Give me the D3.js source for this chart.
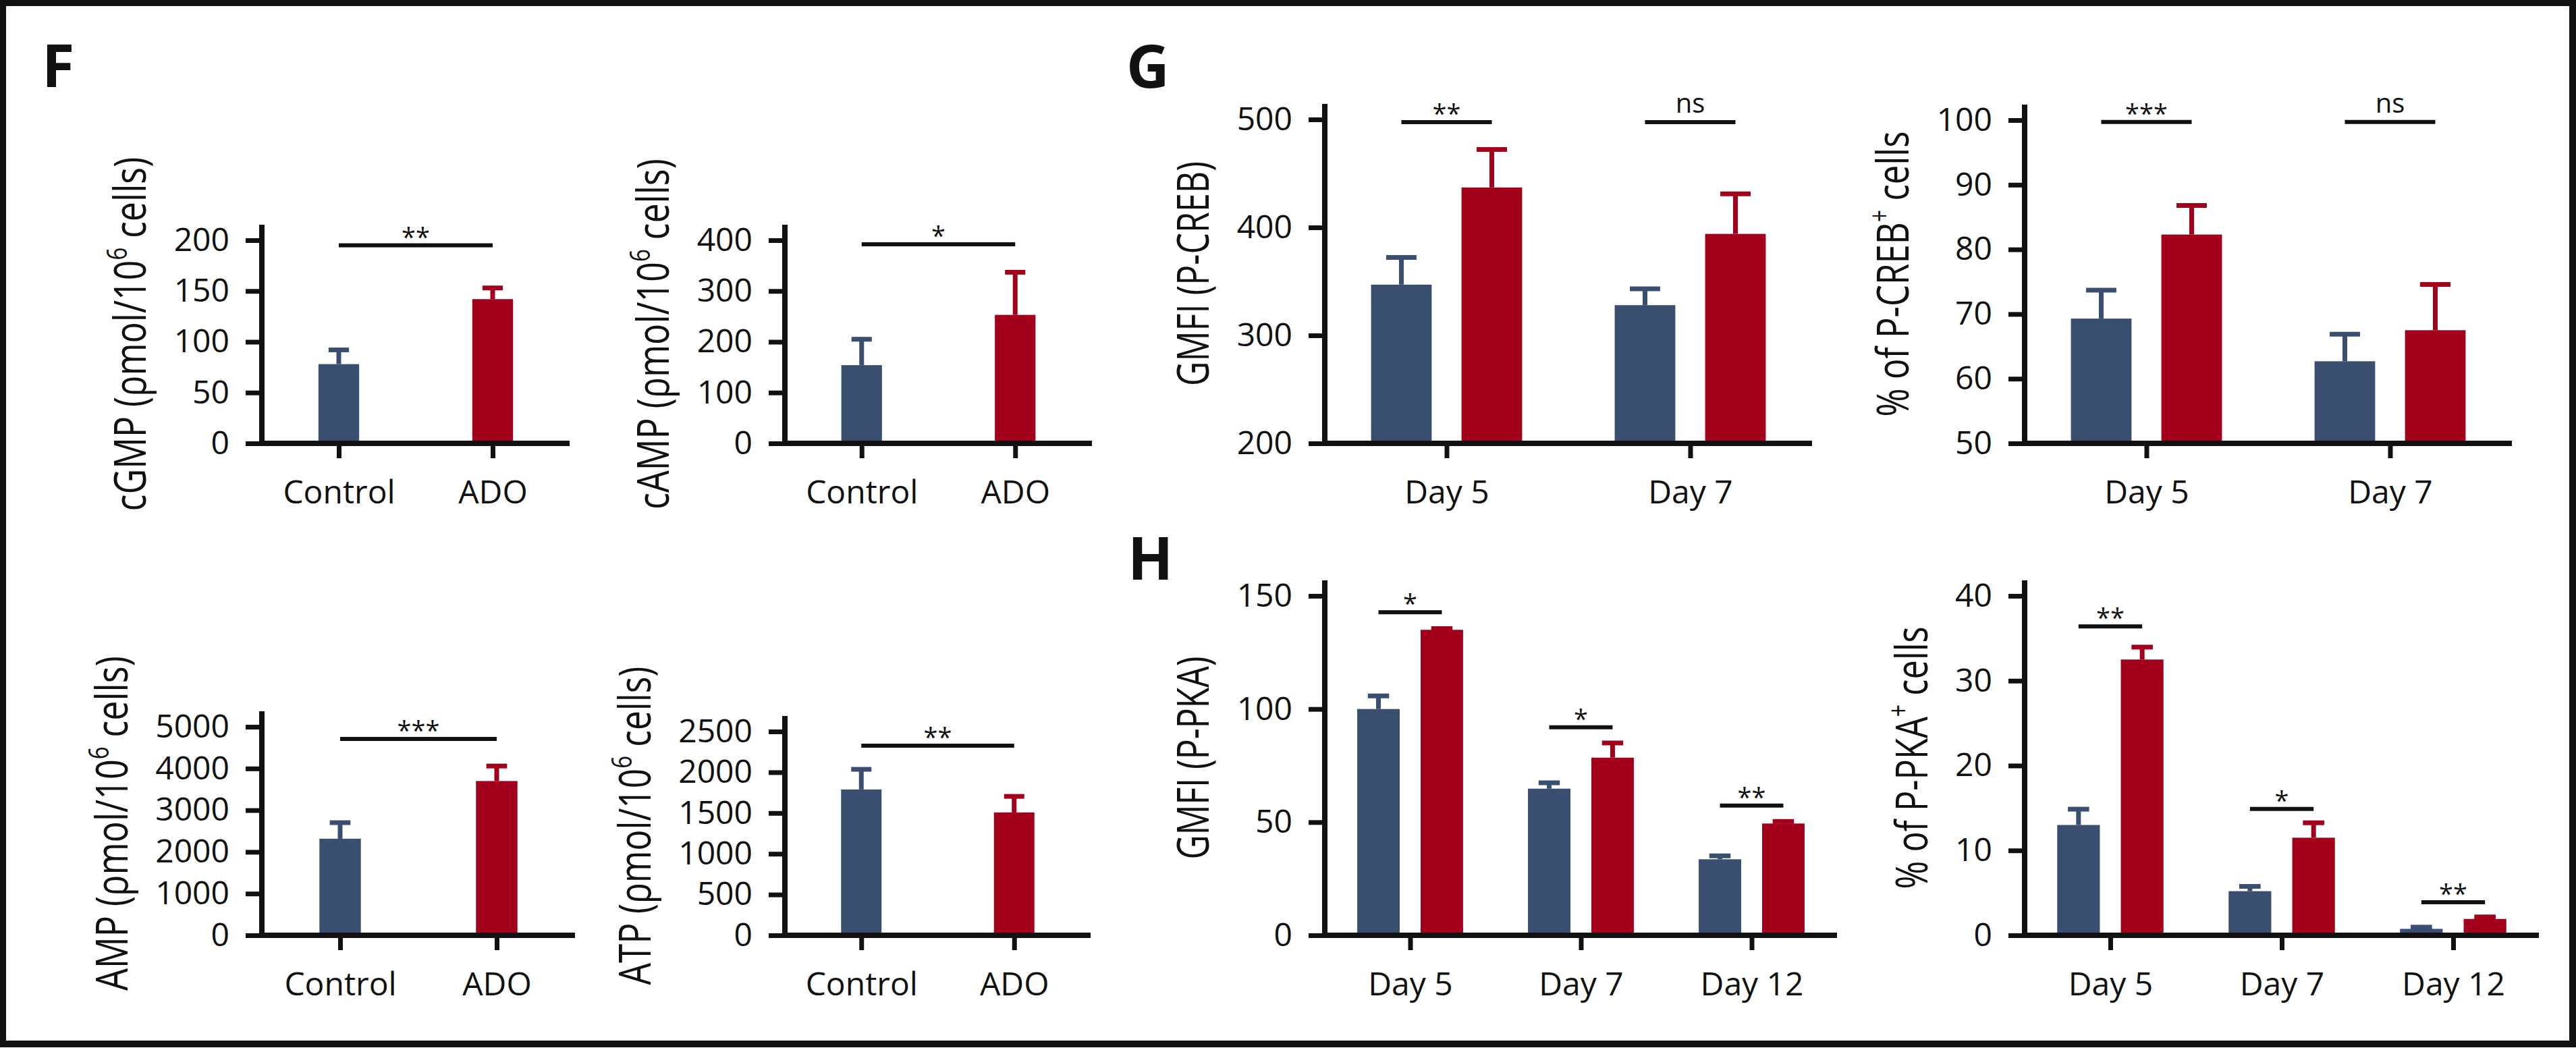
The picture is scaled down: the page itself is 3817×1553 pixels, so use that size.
<!DOCTYPE html>
<html>
<head>
<meta charset="utf-8">
<script src="https://cdn.jsdelivr.net/npm/d3@7"></script>
<style>
body { margin: 0; background: #fff; }
text { font-family: "Open Sans", "Liberation Sans", sans-serif; fill: #111; }
</style>
</head>
<body>
<svg width="3817" height="1553"></svg>
<script>
var svg = d3.select("svg");

var blue = "#3a4e6f";
var red = "#a3001b";
var ink = "#111";

// ---- F : nucleotides ----
var fCats = ["Control", "ADO"];
var cgmpMean = [78, 142], cgmpSem = [16, 13];
var campMean = [154, 253], campSem = [55, 88];
var ampMean = [2316, 3699], ampSem = [434, 409];
var atpMean = [1789, 1507], atpSem = [272, 222];
var cgmpTicks = [0, 50, 100, 150, 200];
var campTicks = [0, 100, 200, 300, 400];
var ampTicks = [0, 1000, 2000, 3000, 4000, 5000];
var atpTicks = [0, 500, 1000, 1500, 2000, 2500];
var fStars = ["**", "*", "***", "**"];
var fSigLevel = [195, 392, 4709, 2326];

// ---- G : P-CREB ----
var gDays = ["Day 5", "Day 7"];
var crebGmfiCtrl = [347, 328], crebGmfiCtrlSem = [27, 17];
var crebGmfiAdo = [437, 394], crebGmfiAdoSem = [37, 39];
var crebPctCtrl = [69.3, 62.7], crebPctCtrlSem = [4.7, 4.5];
var crebPctAdo = [82.3, 67.5], crebPctAdoSem = [4.8, 7.4];
var crebGmfiTicks = [200, 300, 400, 500];
var crebPctTicks = [50, 60, 70, 80, 90, 100];
var crebGmfiSig = ["**", "ns"], crebGmfiSigLevel = [497.5, 497.5];
var crebPctSig = ["***", "ns"], crebPctSigLevel = [99.7, 99.7];

// ---- H : P-PKA ----
var hDays = ["Day 5", "Day 7", "Day 12"];
var pkaGmfiCtrl = [100, 64.8, 33.6], pkaGmfiCtrlSem = [6.7, 3.5, 2.4];
var pkaGmfiAdo = [135, 78.5, 49.4], pkaGmfiAdoSem = [1.4, 7.4, 1.8];
var pkaPctCtrl = [13.0, 5.2, 0.76], pkaPctCtrlSem = [2.1, 0.8, 0.44];
var pkaPctAdo = [32.5, 11.5, 1.93], pkaPctAdoSem = [1.7, 2.0, 0.47];
var pkaGmfiTicks = [0, 50, 100, 150];
var pkaPctTicks = [0, 10, 20, 30, 40];
var pkaGmfiSig = ["*", "*", "**"], pkaGmfiSigLevel = [142.8, 91.9, 57.3];
var pkaPctSig = ["**", "*", "**"], pkaPctSigLevel = [36.4, 14.9, 3.9];

// frame
svg.append("rect")
   .attr("x", 4).attr("y", 4)
   .attr("width", 3808).attr("height", 1543)
   .attr("fill", "none")
   .attr("stroke", ink)
   .attr("stroke-width", 10);

function drawPanel(o) {
  var g = svg.append("g");
  var x = d3.scalePoint().domain(o.cats).range([o.left, o.right]).padding(0.5);
  var y = d3.scaleLinear().domain([o.ticks[0], o.ticks[o.ticks.length - 1]]).range([o.bottom, o.top]);
  var nSeries = o.means.length;
  var groupW = x.step() * (nSeries > 1 ? 0.62 : 0.395);
  var inner = d3.scaleBand().domain(d3.range(nSeries))
                .range([-groupW / 2, groupW / 2]).paddingInner(0.33);
  var bw = inner.bandwidth();

  // bars + upper error whiskers
  o.means.forEach(function(vals, si) {
    var sems = o.sems[si];
    var cx = function(ci) { return x(o.cats[ci]) + inner(si) + bw / 2; };
    g.selectAll(null).data(vals).enter().append("rect")
     .attr("x", function(d, ci) { return cx(ci) - bw / 2; })
     .attr("y", function(d) { return y(d); })
     .attr("width", bw)
     .attr("height", function(d) { return y(o.ticks[0]) - y(d); })
     .attr("fill", function(d, ci) { return o.color(si, ci); });
    g.selectAll(null).data(vals).enter().append("line")
     .attr("x1", function(d, ci) { return cx(ci); })
     .attr("x2", function(d, ci) { return cx(ci); })
     .attr("y1", function(d) { return y(d); })
     .attr("y2", function(d, ci) { return y(d + sems[ci]); })
     .attr("stroke", function(d, ci) { return o.color(si, ci); })
     .attr("stroke-width", 7);
    g.selectAll(null).data(vals).enter().append("line")
     .attr("x1", function(d, ci) { return cx(ci) - bw / 4; })
     .attr("x2", function(d, ci) { return cx(ci) + bw / 4; })
     .attr("y1", function(d, ci) { return y(d + sems[ci]) + 3; })
     .attr("y2", function(d, ci) { return y(d + sems[ci]) + 3; })
     .attr("stroke", function(d, ci) { return o.color(si, ci); })
     .attr("stroke-width", 7);
  });

  // y axis
  var ya = g.append("g")
    .attr("transform", "translate(" + o.left + ",0)")
    .call(d3.axisLeft(y).tickValues(o.ticks).tickFormat(d3.format("d"))
            .tickSize(24).tickPadding(24).tickSizeOuter(0));
  ya.select(".domain").remove();
  ya.selectAll(".tick line").attr("stroke", ink).attr("stroke-width", 7);
  ya.selectAll(".tick text").attr("font-size", 48).attr("fill", ink);
  g.append("line")
   .attr("x1", o.left).attr("x2", o.left)
   .attr("y1", y(o.ticks[0]) + 4).attr("y2", o.top - 23)
   .attr("stroke", ink).attr("stroke-width", 8);

  // x axis
  var xa = g.append("g")
    .attr("transform", "translate(0," + y(o.ticks[0]) + ")")
    .call(d3.axisBottom(x).tickSize(22).tickSizeOuter(0));
  xa.select(".domain").remove();
  xa.selectAll(".tick line").attr("stroke", ink).attr("stroke-width", 7);
  xa.selectAll(".tick text").attr("font-size", 48).attr("fill", ink)
    .attr("y", 89).attr("dy", null);
  g.append("line")
   .attr("x1", o.left - 4).attr("x2", o.right)
   .attr("y1", y(o.ticks[0])).attr("y2", y(o.ticks[0]))
   .attr("stroke", ink).attr("stroke-width", 8);

  // significance brackets
  o.sig.forEach(function(s, k) {
    var xa0, xa1;
    if (nSeries > 1) {
      xa0 = x(o.cats[k]) + inner(0) + bw / 2;
      xa1 = x(o.cats[k]) + inner(1) + bw / 2;
    } else {
      xa0 = x(o.cats[0]);
      xa1 = x(o.cats[1]);
    }
    var ly = y(o.sigLevel[k]);
    g.append("line")
     .attr("x1", xa0).attr("x2", xa1)
     .attr("y1", ly).attr("y2", ly)
     .attr("stroke", ink).attr("stroke-width", 6);
    g.append("text")
     .attr("x", (xa0 + xa1) / 2)
     .attr("y", s === "ns" ? ly - 14 : ly + 1)
     .attr("text-anchor", "middle")
     .attr("font-size", s === "ns" ? 40 : 38)
     .text(s);
  });

  // y label, narrowed along its reading direction to the figure's length
  var bb = ya.node().getBBox();
  var lx = o.left + bb.x - 65;
  var lyc = (y(o.ticks[0]) + o.top - 23) / 2;
  var lab = g.append("text")
    .attr("text-anchor", "middle")
    .attr("dy", "0.36em")
    .attr("font-size", 66);
  var shifted = false;
  o.label.forEach(function(part) {
    var t = lab.append("tspan").text(part[0]);
    if (part[1]) { t.attr("dy", -28).attr("font-size", 42); shifted = true; }
    else if (shifted) { t.attr("dy", 28); shifted = false; }
  });
  var k = o.labelLen / lab.node().getBBox().width;
  lab.attr("transform", "translate(" + lx + "," + lyc + ") rotate(-90) scale(" + k + ",1)");
}

var fColor = function(si, ci) { return ci === 0 ? blue : red; };
var dayColor = function(si, ci) { return si === 0 ? blue : red; };

drawPanel({ cats: fCats, left: 388, right: 844, bottom: 657, top: 356, ticks: cgmpTicks,
  means: [cgmpMean], sems: [cgmpSem], color: fColor, sig: [fStars[0]], sigLevel: [fSigLevel[0]],
  label: [["cGMP (\u03C1mol/10", 0], ["6", 1], [" cells)", 0]], labelLen: 525 });
drawPanel({ cats: fCats, left: 1163, right: 1618, bottom: 657, top: 356, ticks: campTicks,
  means: [campMean], sems: [campSem], color: fColor, sig: [fStars[1]], sigLevel: [fSigLevel[1]],
  label: [["cAMP (\u03C1mol/10", 0], ["6", 1], [" cells)", 0]], labelLen: 520 });
drawPanel({ cats: fCats, left: 388, right: 852, bottom: 1386, top: 1077, ticks: ampTicks,
  means: [ampMean], sems: [ampSem], color: fColor, sig: [fStars[2]], sigLevel: [fSigLevel[2]],
  label: [["AMP (\u03C1mol/10", 0], ["6", 1], [" cells)", 0]], labelLen: 496 });
drawPanel({ cats: fCats, left: 1163, right: 1616, bottom: 1386, top: 1084, ticks: atpTicks,
  means: [atpMean], sems: [atpSem], color: fColor, sig: [fStars[3]], sigLevel: [fSigLevel[3]],
  label: [["ATP (\u03C1mol/10", 0], ["6", 1], [" cells)", 0]], labelLen: 472 });

drawPanel({ cats: gDays, left: 1963, right: 2685, bottom: 657, top: 177, ticks: crebGmfiTicks,
  means: [crebGmfiCtrl, crebGmfiAdo], sems: [crebGmfiCtrlSem, crebGmfiAdoSem], color: dayColor,
  sig: crebGmfiSig, sigLevel: crebGmfiSigLevel, label: [["GMFI (P-CREB)", 0]], labelLen: 333 });
drawPanel({ cats: gDays, left: 3000, right: 3722, bottom: 657, top: 178, ticks: crebPctTicks,
  means: [crebPctCtrl, crebPctAdo], sems: [crebPctCtrlSem, crebPctAdoSem], color: dayColor,
  sig: crebPctSig, sigLevel: crebPctSigLevel,
  label: [["% of P-CREB", 0], ["+", 1], [" cells", 0]], labelLen: 423 });

drawPanel({ cats: hDays, left: 1963, right: 2722, bottom: 1386, top: 883, ticks: pkaGmfiTicks,
  means: [pkaGmfiCtrl, pkaGmfiAdo], sems: [pkaGmfiCtrlSem, pkaGmfiAdoSem], color: dayColor,
  sig: pkaGmfiSig, sigLevel: pkaGmfiSigLevel, label: [["GMFI (P-PKA)", 0]], labelLen: 301 });
drawPanel({ cats: hDays, left: 3000, right: 3762, bottom: 1386, top: 883, ticks: pkaPctTicks,
  means: [pkaPctCtrl, pkaPctAdo], sems: [pkaPctCtrlSem, pkaPctAdoSem], color: dayColor,
  sig: pkaPctSig, sigLevel: pkaPctSigLevel,
  label: [["% of P-PKA", 0], ["+", 1], [" cells", 0]], labelLen: 389 });

// panel letters
[["F", 62, 129], ["G", 1669, 130], ["H", 1671, 859]].forEach(function(p) {
  svg.append("text")
     .attr("x", p[1]).attr("y", p[2])
     .attr("font-size", 88)
     .attr("font-weight", "bold")
     .attr("font-family", "'Liberation Sans', Arial, sans-serif")
     .text(p[0]);
});
</script>
</body>
</html>
